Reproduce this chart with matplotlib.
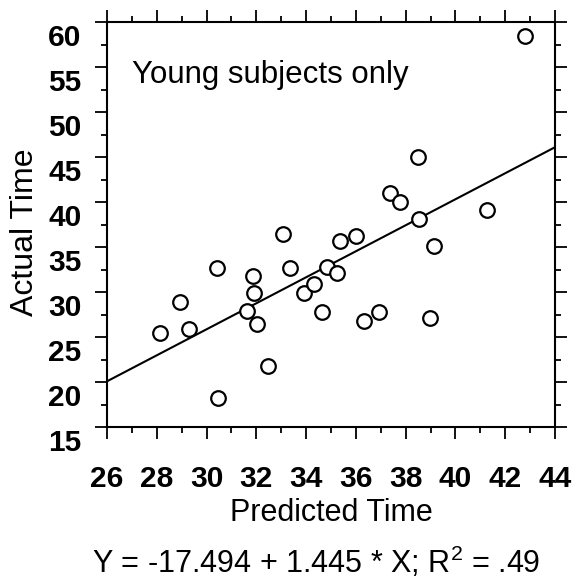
import numpy as np
import matplotlib
matplotlib.use("Agg")
import matplotlib.pyplot as plt
from matplotlib.ticker import MultipleLocator
from matplotlib.transforms import ScaledTranslation

plt.rcParams['font.family'] = ['Liberation Sans', 'DejaVu Sans']
plt.rcParams['mathtext.fontset'] = 'custom'
plt.rcParams['mathtext.rm'] = 'Liberation Sans'
plt.rcParams['mathtext.default'] = 'regular'

# data (young subjects only)
predicted = [28.13, 28.93, 29.29, 30.40, 30.44, 31.87, 31.90, 31.61, 32.01, 32.45,
             33.06, 33.36, 33.91, 34.31, 34.64, 34.82, 35.26, 35.37, 35.99, 36.34,
             36.93, 37.36, 37.79, 38.52, 38.51, 38.99, 39.14, 41.26, 42.80]
actual = [25.41, 28.92, 25.86, 32.70, 18.26, 31.81, 29.92, 27.89, 26.44, 21.78,
          36.44, 32.72, 29.86, 30.86, 27.74, 32.74, 32.14, 35.67, 36.17, 26.78,
          27.74, 40.97, 39.97, 38.11, 44.97, 27.14, 35.11, 39.11, 58.44]

intercept = -17.494
slope = 1.445
r2 = .49

xlim = (26, 44)
ylim = (15, 60)

fig = plt.figure(figsize=(5.79, 5.80), dpi=100)
ax = fig.add_axes([107/579, 1 - 427/580, 448/579, 405/580])

# regression line across the full x range
xs = np.array(xlim)
ax.plot(xs, intercept + slope * xs, color='black', lw=1.5, zorder=2)

ax.plot(predicted, actual, 'o', ms=10.5, mfc='white', mec='black', mew=1.6,
        clip_on=False, zorder=3)

ax.set_xlim(*xlim)
ax.set_ylim(*ylim)

ax.xaxis.set_major_locator(MultipleLocator(2))
ax.xaxis.set_minor_locator(MultipleLocator(1))
ax.yaxis.set_major_locator(MultipleLocator(5))
ax.yaxis.set_minor_locator(MultipleLocator(2.5))

for s in ax.spines.values():
    s.set_linewidth(1.5)

ax.tick_params(which='both', direction='out', top=True, right=True,
               width=1.3, colors='black')
ax.tick_params(which='major', length=8.5)
ax.tick_params(which='minor', length=4.3)
ax.tick_params(axis='x', which='major', labelsize=21.5, pad=19)
ax.tick_params(axis='y', which='major', labelsize=21.5, pad=10)

# y labels in the original sit a little below their ticks
off = ScaledTranslation(0, -0.13, fig.dpi_scale_trans)
for lab in ax.get_yticklabels():
    lab.set_transform(lab.get_transform() + off)
    lab.set_fontweight('bold')
for lab in ax.get_xticklabels():
    lab.set_fontweight('bold')

ax.set_xlabel('Predicted Time', fontsize=22, va='center')
ax.xaxis.set_label_coords(0.5, -0.212)
ax.set_ylabel('Actual Time', fontsize=23, va='center')
ax.yaxis.set_label_coords(-0.183, 0.481)

ax.text(27.0, 53.2, 'Young subjects only', fontsize=22.5, ha='left', va='baseline')

ax.text(0.4665, -0.333, 'Y = %.3f + %.3f * X; R$^2$ = %s' % (intercept, slope, ('%.2f' % r2)[1:]),
        transform=ax.transAxes, ha='center', va='center', fontsize=22)

fig.savefig('out.png', dpi=100)
